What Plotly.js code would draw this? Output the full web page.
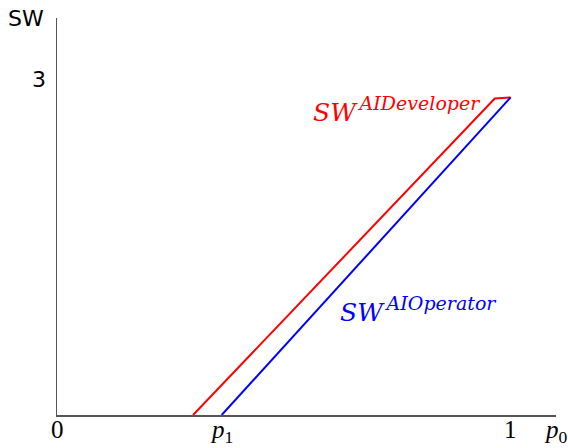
<!DOCTYPE html>
<html>
<head>
<meta charset="utf-8">
<script src="https://cdn.plot.ly/plotly-3.0.1.min.js"></script>
<style>html,body{margin:0;padding:0;background:#fff;}</style>
</head>
<body>
<div id="chart" style="width:568px;height:448px;"></div>
<script>
// Data
const devX = [0.30, 0.965, 1.0];
const devY = [0, 2.83, 2.84];
const opX = [0.363, 1.0];
const opY = [0, 2.84];
const xTickVals = [0, 0.363, 1];
const xTickText = ['0', '<i>p</i><sub>1</sub>', '1'];
const yTickVals = [3];
const yTickText = ['3'];

const serif = 'Liberation Serif, DejaVu Serif, serif';
const mathIt = 'DejaVu Serif, serif';
const sans = 'DejaVu Sans, Liberation Sans, sans-serif';

const traces = [
  {x: devX, y: devY, mode: 'lines', line: {color: '#ff0000', width: 2}, name: 'SW AIDeveloper', hoverinfo: 'skip'},
  {x: opX, y: opY, mode: 'lines', line: {color: '#0000ff', width: 2}, name: 'SW AIOperator', hoverinfo: 'skip'}
];

// x tick labels drawn as annotations placed on the x scale (for precise vertical placement)
const xTickAnnots = xTickVals.map((v, i) => ({
  xref: 'x', yref: 'paper', x: v, y: 0, xanchor: 'center', yanchor: 'top', yshift: 1,
  text: xTickText[i], showarrow: false, font: {family: serif, size: 25, color: '#000'}
}));

const layout = {
  width: 568, height: 448,
  margin: {l: 57, r: 12, t: 18, b: 33},
  showlegend: false,
  paper_bgcolor: '#fff', plot_bgcolor: '#fff',
  xaxis: {
    range: [0, 1.1], showgrid: false, zeroline: false,
    showline: true, linecolor: '#555', linewidth: 1.5,
    tickvals: xTickVals, ticks: '', showticklabels: false
  },
  yaxis: {
    range: [0, 3.55], showgrid: false, zeroline: false,
    showline: true, linecolor: '#555', linewidth: 1.5,
    tickvals: yTickVals, ticktext: yTickText, ticks: '',
    tickfont: {family: sans, size: 22, color: '#000'}, ticklabelstandoff: 5
  },
  annotations: xTickAnnots.concat([
    {xref: 'paper', yref: 'paper', x: 0, y: 1.0, xanchor: 'right', yanchor: 'middle', xshift: -11,
     text: 'SW', showarrow: false, font: {family: sans, size: 22, color: '#000'}},
    {xref: 'paper', yref: 'paper', x: 1.0, y: 0, xanchor: 'center', yanchor: 'top', xshift: 0, yshift: 1,
     text: '<i>p</i><sub>0</sub>', showarrow: false, font: {family: serif, size: 25, color: '#000'}},
    {xref: 'x', yref: 'y', x: 0.56, y: 2.73, xanchor: 'left', yanchor: 'middle',
     text: '<i>SW</i><sup><span style="font-size:19px"><i>&#8201;AIDeveloper</i></span></sup>', showarrow: false, font: {family: mathIt, size: 25, color: '#ff0000'}},
    {xref: 'x', yref: 'y', x: 0.62, y: 0.94, xanchor: 'left', yanchor: 'middle',
     text: '<i>SW</i><sup><span style="font-size:19px"><i>&#8201;AIOperator</i></span></sup>', showarrow: false, font: {family: mathIt, size: 25, color: '#0000ff'}}
  ])
};

Plotly.newPlot('chart', traces, layout, {displayModeBar: false, staticPlot: true});
</script>
</body>
</html>
